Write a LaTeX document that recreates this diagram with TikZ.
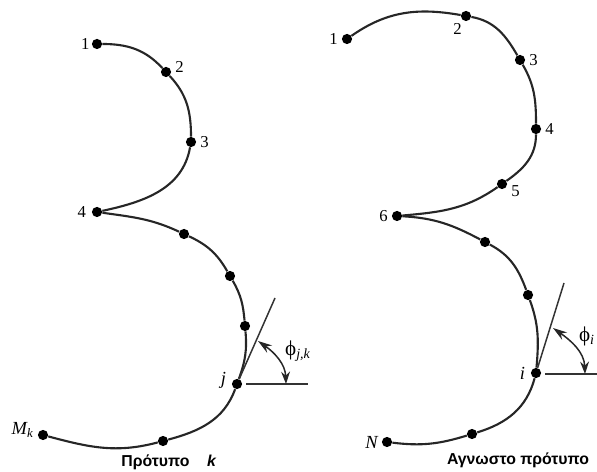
\documentclass[tikz,border=0pt]{standalone}
\usepackage{fontspec}
\setmainfont{Liberation Serif}
\newfontfamily\capfont{Liberation Sans}
\usetikzlibrary{positioning,arrows.meta}
\tikzset{
  dot/.style={circle,fill=black,inner sep=0pt,minimum size=5.8pt},
  num/.style={inner sep=0pt,font=\fontsize{9.5pt}{11pt}\selectfont},
  lab/.style={inner sep=0pt,font=\fontsize{10.5pt}{12pt}\selectfont\itshape},
  captext/.style={inner sep=0pt,font=\fontsize{9pt}{11pt}\selectfont\capfont\bfseries},
  curve/.style={line width=1.2pt,black!85},
  tang/.style={line width=0.85pt,black!80},
  ang/.style={line width=0.85pt,black!85,{Stealth[length=7pt,width=5pt]}-{Stealth[length=8pt,width=5pt]}}
}
\begin{document}
\begin{tikzpicture}[x=0.02cm,y=0.02cm]
  \useasboundingbox (0,0) rectangle (597,472);
  % left curve
  \node[dot] (a1) at (97,428) {};
  \node[dot] (a2) at (166,400) {};
  \node[dot] (a3) at (191,330) {};
  \node[dot] (a4) at (97,260) {};
  \node[dot] (a5) at (184,238) {};
  \node[dot] (a6) at (230,196) {};
  \node[dot] (a7) at (245,146) {};
  \node[dot] (aj) at (237,88) {};
  \node[dot] (a9) at (163,31) {};
  \node[dot] (aM) at (43,37) {};
  \draw[curve] (a1) to[out=0,in=133] (a2);
  \draw[curve] (a2) to[out=-47,in=90] (a3);
  \draw[curve] (a3) to[out=-100,in=12] (a4);
  \draw[curve] (a4) to[out=-8,in=155] (a5);
  \draw[curve] (a5) to[out=-25,in=120] (a6);
  \draw[curve] (a6) to[out=-60,in=95] (a7);
  \draw[curve] (a7) to[out=-85,in=70] (aj);
  \draw[curve] (aj) to[out=-110,in=15] (a9);
  \draw[curve] (a9) to[out=195,in=-15] (aM);
  \node[num] (t1) at (a1.west) [left=1pt] {1};
  \node[num] (t2) at (a2.east) [right=2pt,yshift=3pt] {2};
  \node[num] (t3) at (a3.east) [right=2pt] {3};
  \node[num] (t4) at (a4.west) [left=3pt] {4};
  \node[lab] (tj) at (aj.west) [left=3pt,yshift=2pt] {j};
  \node[lab] (tM) at (aM.west) [left=2pt,yshift=3pt] {M\textsubscript{k}};
  % angle left
  \coordinate (ae) at (275,174);
  \coordinate (ah1) at (246,88);
  \coordinate (ah2) at (308,88);
  \coordinate (as) at (286,88);
  \coordinate (at) at (258,131);
  \draw[tang] (aj) -- (ae);
  \draw[tang] (ah1) -- (ah2);
  \draw[ang] (as) to[out=92,in=-35] (at);
  \node[inner sep=0pt,font=\fontsize{12pt}{14pt}\selectfont] (pa) at (298,121) {ϕ\textsubscript{\itshape j,k}};
  \node[captext] (ca) at (169,10) {Πρότυπο\ \ \ \ \textit{k}};
  % right curve
  \node[dot] (b1) at (347,433) {};
  \node[dot] (b2) at (466,456) {};
  \node[dot] (b3) at (520,412) {};
  \node[dot] (b4) at (536,343) {};
  \node[dot] (b5) at (502,288) {};
  \node[dot] (b6) at (397,256) {};
  \node[dot] (b7) at (485,230) {};
  \node[dot] (b8) at (528,177) {};
  \node[dot] (bi) at (536,99) {};
  \node[dot] (b10) at (472,38) {};
  \node[dot] (bN) at (387,30) {};
  \draw[curve] (b1) to[out=35,in=170] (b2);
  \draw[curve] (b2) to[out=-10,in=120] (b3);
  \draw[curve] (b3) to[out=-60,in=90] (b4);
  \draw[curve] (b4) to[out=-90,in=35] (b5);
  \draw[curve] (b5) to[out=-145,in=5] (b6);
  \draw[curve] (b6) to[out=-3,in=152] (b7);
  \draw[curve] (b7) to[out=-28,in=110] (b8);
  \draw[curve] (b8) to[out=-70,in=85] (bi);
  \draw[curve] (bi) to[out=-105,in=17] (b10);
  \draw[curve] (b10) to[out=197,in=-7] (bN);
  \node[num] (u1) at (b1.west) [left=2pt] {1};
  \node[num] (u2) at (b2.south west) [below left=2pt and 0pt] {2};
  \node[num] (u3) at (b3.east) [right=2pt] {3};
  \node[num] (u4) at (b4.east) [right=2pt] {4};
  \node[num] (u5) at (b5.east) [right=2pt,yshift=-4pt] {5};
  \node[num] (u6) at (b6.west) [left=2pt] {6};
  \node[lab] (ui) at (bi.west) [left=3pt] {i};
  \node[lab] (uN) at (bN.west) [left=2pt] {N};
  % angle right
  \coordinate (be) at (564,189);
  \coordinate (bh1) at (545,98);
  \coordinate (bh2) at (597,98);
  \coordinate (bs) at (585,98);
  \coordinate (bt) at (553,144);
  \draw[tang] (bi) -- (be);
  \draw[tang] (bh1) -- (bh2);
  \draw[ang] (bs) to[out=92,in=-35] (bt);
  \node[inner sep=0pt,font=\fontsize{12pt}{14pt}\selectfont] (pb) at (587,136) {ϕ\textsubscript{\itshape i}};
  \node[captext] (cb) at (518,12) {Αγνωστο πρότυπο};
\end{tikzpicture}
\end{document}
